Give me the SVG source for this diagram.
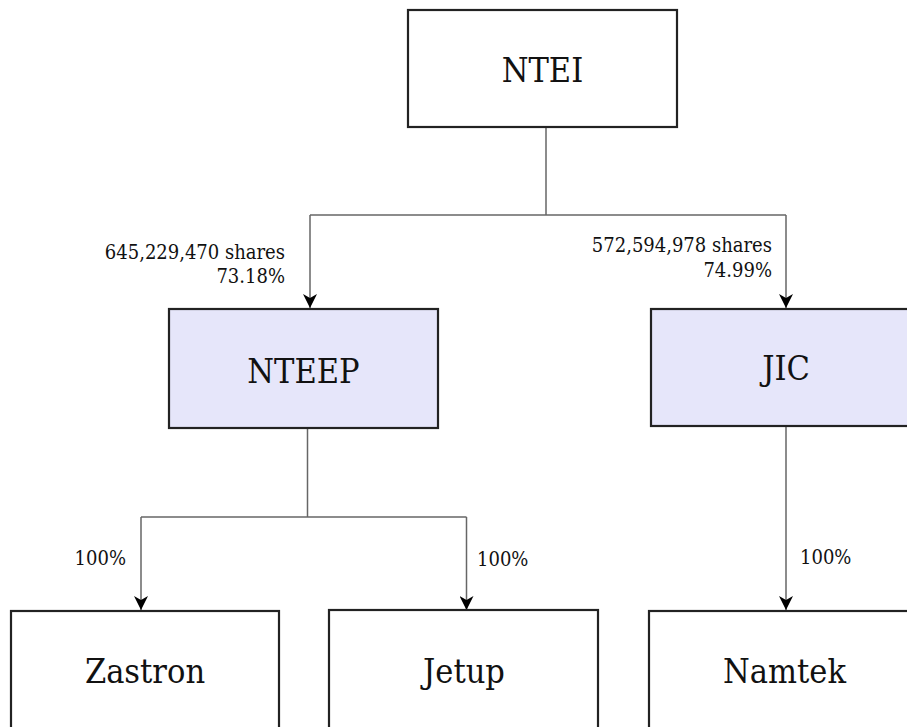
<svg xmlns="http://www.w3.org/2000/svg" width="907" height="727" viewBox="0 0 907 727">
<style>
.box{stroke:#222;stroke-width:2.2;fill:#fff}
.sub{fill:#E6E6FA}
.name{font-family:"DejaVu Serif",serif;font-stretch:condensed;font-size:34px;fill:#111;text-anchor:middle}
.lbl{font-family:"DejaVu Serif",serif;font-stretch:condensed;font-size:20px;fill:#111}
.conn{fill:none;stroke:#666;stroke-width:1.5}
</style>
<defs>
<marker id="arr" viewBox="0 0 14 14" refX="14" refY="7" markerWidth="14" markerHeight="14" markerUnits="userSpaceOnUse" orient="auto">
<path d="M0,0 L14,7 L0,14 L4,7 z" fill="#000"/>
</marker>
</defs>
<rect width="907" height="727" fill="#fff"/>
<g id="connectors">
<path class="conn" d="M546,128 V215"/>
<path class="conn" d="M310,215 H786"/>
<path class="conn" d="M310,215 V308" marker-end="url(#arr)"/>
<path class="conn" d="M786,215 V308" marker-end="url(#arr)"/>
<path class="conn" d="M307.5,429 V517"/>
<path class="conn" d="M141,517 H466.5"/>
<path class="conn" d="M141,517 V610" marker-end="url(#arr)"/>
<path class="conn" d="M466.5,517 V610" marker-end="url(#arr)"/>
<path class="conn" d="M786,427 V610" marker-end="url(#arr)"/>
<text class="lbl" x="285" y="259" text-anchor="end">645,229,470 shares</text>
<text class="lbl" x="285" y="283" text-anchor="end">73.18%</text>
<text class="lbl" x="772" y="252" text-anchor="end">572,594,978 shares</text>
<text class="lbl" x="772" y="277" text-anchor="end">74.99%</text>
<text class="lbl" x="126" y="565" text-anchor="end">100%</text>
<text class="lbl" x="477" y="566">100%</text>
<text class="lbl" x="800" y="564">100%</text>
</g>
<g id="NTEI">
<rect class="box" x="408" y="10" width="269" height="117"/>
<text class="name" x="542.5" y="82">NTEI</text>
</g>
<g id="NTEEP">
<rect class="box sub" x="169" y="309" width="269" height="119"/>
<text class="name" x="303.5" y="383">NTEEP</text>
</g>
<g id="JIC">
<rect class="box sub" x="651" y="309" width="270" height="117"/>
<text class="name" x="786" y="380">JIC</text>
</g>
<g id="Zastron">
<rect class="box" x="11" y="611" width="268" height="120"/>
<text class="name" x="145" y="683">Zastron</text>
</g>
<g id="Jetup">
<rect class="box" x="329" y="610" width="269" height="120"/>
<text class="name" x="464" y="683">Jetup</text>
</g>
<g id="Namtek">
<rect class="box" x="649" y="611" width="270" height="120"/>
<text class="name" x="784.5" y="683">Namtek</text>
</g>
</svg>
